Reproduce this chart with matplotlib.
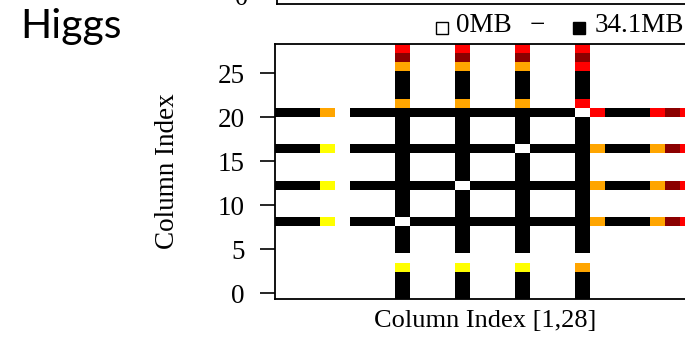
"""Point-to-point traffic heat map between ranks (Higgs run)."""

import matplotlib

matplotlib.use("Agg")
import matplotlib.pyplot as plt
import numpy as np
from matplotlib.colors import LinearSegmentedColormap
from matplotlib.lines import Line2D

N_RANKS = 28
HUB_RANKS = [8, 12, 16, 20]

# traffic (MB) sent by each hub rank to every other rank, index 0..27
HUB_8 = [34.1, 34.1, 34.1, 6.8, 0, 34.1, 34.1, 34.1, 0, 34.1, 34.1, 34.1, 34.1, 34.1,
         34.1, 34.1, 34.1, 34.1, 34.1, 34.1, 34.1, 13.6, 34.1, 34.1, 34.1, 13.6, 27.3, 20.5]
HUB_12 = [34.1, 34.1, 34.1, 6.8, 0, 34.1, 34.1, 34.1, 34.1, 34.1, 34.1, 34.1, 0, 34.1,
          34.1, 34.1, 34.1, 34.1, 34.1, 34.1, 34.1, 13.6, 34.1, 34.1, 34.1, 13.6, 27.3, 20.5]
HUB_16 = [34.1, 34.1, 34.1, 6.8, 0, 34.1, 34.1, 34.1, 34.1, 34.1, 34.1, 34.1, 34.1, 34.1,
          34.1, 34.1, 0, 34.1, 34.1, 34.1, 34.1, 13.6, 34.1, 34.1, 34.1, 13.6, 27.3, 20.5]
HUB_20 = [34.1, 34.1, 34.1, 13.6, 0, 34.1, 34.1, 34.1, 34.1, 34.1, 34.1, 34.1, 34.1, 34.1,
          34.1, 34.1, 34.1, 34.1, 34.1, 34.1, 0, 20.5, 34.1, 34.1, 34.1, 20.5, 27.3, 20.5]

MAX_MB = 34.1
HEAT = ["white", "#ffff00", "#ffa500", "#ff0000", "#8b0000", "black"]

SERIF = ["Liberation Serif", "DejaVu Serif"]

# symmetric matrix: hub rows and hub columns carry the traffic
traffic = np.zeros((N_RANKS, N_RANKS))
for rank, row in zip(HUB_RANKS, [HUB_8, HUB_12, HUB_16, HUB_20]):
    traffic[rank, :] = row
    traffic[:, rank] = row

cmap = LinearSegmentedColormap.from_list("heat", HEAT)

W, H = 685, 337
fig = plt.figure(figsize=(W / 100, H / 100), dpi=100)


def px_axes(left, top, right, bottom):
    return fig.add_axes([left / W, 1 - bottom / H, (right - left) / W, (bottom - top) / H])


# tail of the panel above
top_ax = px_axes(277, -120, 700, 4)
top_ax.set_xlim(0, 1)
top_ax.set_ylim(-0.6, 10)
top_ax.set_xticks([])
top_ax.set_yticks([0], ["0"], fontfamily=SERIF, fontsize=19)
top_ax.tick_params(axis="y", length=11, width=1.2, pad=10)
for spine in top_ax.spines.values():
    spine.set_linewidth(1.3)

ax = px_axes(275, 44, 695, 298.7)
ax.imshow(
    traffic,
    origin="lower",
    cmap=cmap,
    vmin=0,
    vmax=MAX_MB,
    aspect="auto",
    interpolation="nearest",
    extent=(-0.5, N_RANKS - 0.5, -0.614, 28.33),
)
ax.set_xlim(-0.5, N_RANKS - 0.5)
ax.set_ylim(-0.614, 28.33)
ax.set_xticks([])
ax.set_yticks(range(0, 26, 5), [str(v) for v in range(0, 26, 5)],
              fontfamily=SERIF, fontsize=19.5)
ax.tick_params(axis="y", length=11, width=1.2, pad=11)
for spine in ax.spines.values():
    spine.set_linewidth(1.3)
ax.set_xlabel("Column Index [1,28]", fontfamily=SERIF, fontsize=19, labelpad=8)
ax.set_ylabel("Column Index", fontfamily=SERIF, fontsize=19.5, labelpad=27)

# colour key above the map
key_y = 1 - 25 / H
mark_y = 1 - 28 / H
fig.add_artist(Line2D([442 / W], [mark_y], marker="s", markersize=8.5, markerfacecolor="white",
                      markeredgecolor="black", markeredgewidth=1.0, transform=fig.transFigure))
fig.text(456 / W, key_y, "0MB", fontfamily=SERIF, fontsize=19.5, va="center")
fig.text(530 / W, key_y, "\u2212", fontfamily=SERIF, fontsize=19.5, va="center")
fig.add_artist(Line2D([579 / W], [mark_y], marker="s", markersize=8.5, markerfacecolor="black",
                      markeredgecolor="black", transform=fig.transFigure))
fig.text(595 / W, key_y, f"{MAX_MB}MB", fontfamily=SERIF, fontsize=19.5, va="center")

fig.text(20 / W, 1 - 38 / H, "Higgs", fontfamily="Lato", fontsize=29.5, va="baseline")

fig.savefig("out.png", dpi=100, facecolor="white")
